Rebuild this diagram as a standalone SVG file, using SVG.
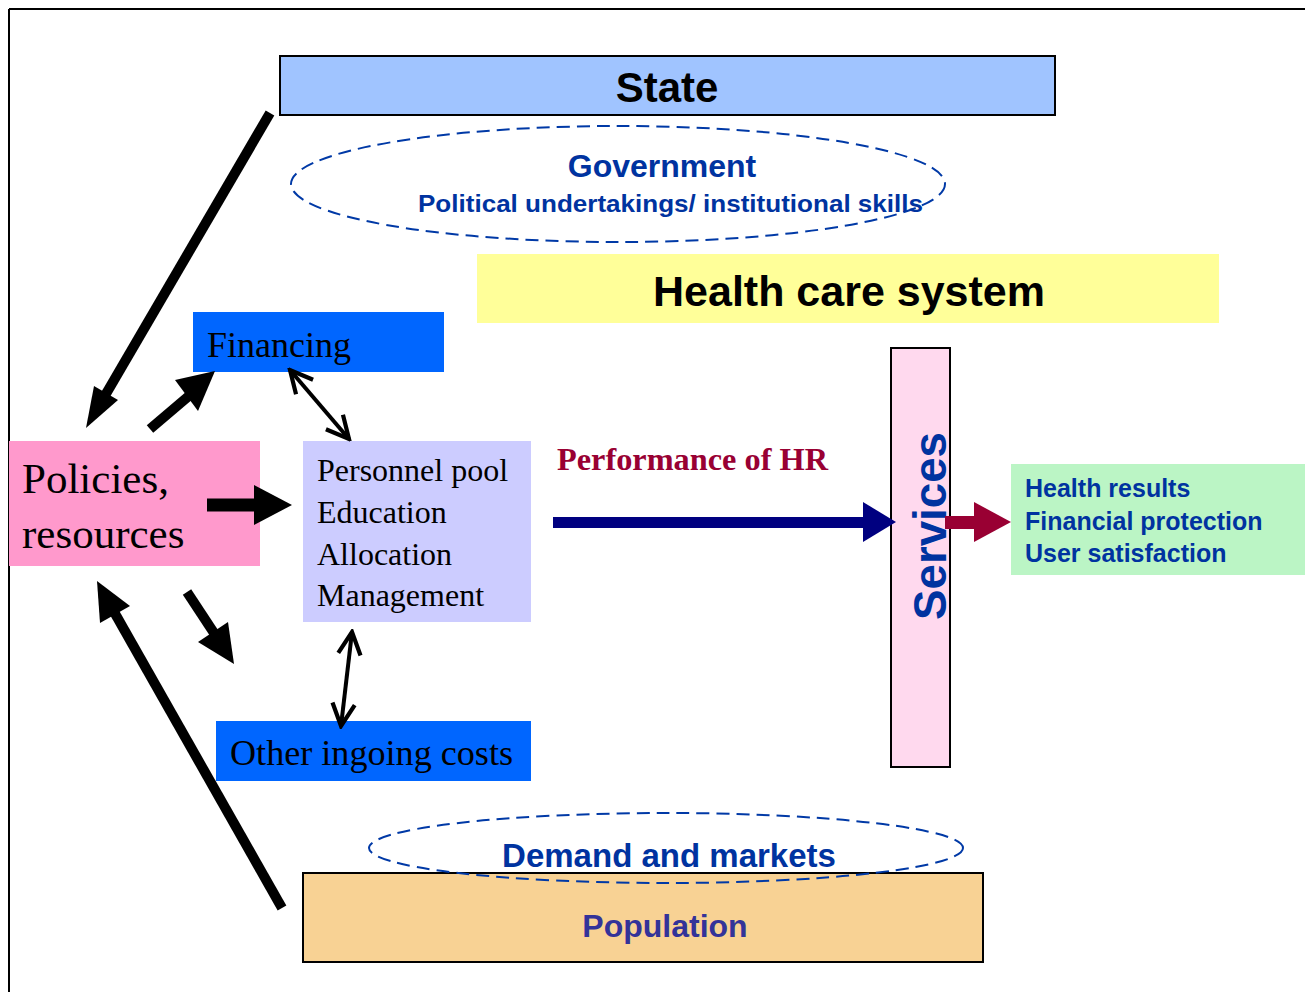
<svg xmlns="http://www.w3.org/2000/svg" width="1305" height="992" viewBox="0 0 1305 992">
<defs>
<style>
.sans{font-family:"Liberation Sans",Arial,sans-serif;font-weight:bold}
.serif{font-family:"Liberation Serif","Times New Roman",serif}
.blue{fill:#0033a0}
.box{stroke:#000;stroke-width:2}
.dash{fill:none;stroke:#0039a6;stroke-width:2;stroke-dasharray:13 7}
.thick{stroke:#000;stroke-width:10;fill:none}
.thin{stroke:#000;stroke-width:4;fill:none}
</style>
<marker id="open" viewBox="0 0 20 20" refX="18" refY="10" markerWidth="7" markerHeight="7" markerUnits="strokeWidth" orient="auto-start-reverse">
<path d="M2,2 L18,10 L2,18" fill="none" stroke="#000" stroke-width="3"/>
</marker>
</defs>
<rect width="1305" height="992" fill="#fff"/>
<g id="frame">
<line x1="9" y1="9" x2="1305" y2="9" stroke="#000" stroke-width="2"/>
<line x1="9" y1="9" x2="9" y2="992" stroke="#000" stroke-width="2"/>
</g>
<g id="state">
<rect class="box" x="280" y="56" width="775" height="59" fill="#a0c4ff"/>
<text class="sans" x="667" y="102" font-size="42" text-anchor="middle" fill="#000">State</text>
</g>
<g id="government">
<ellipse class="dash" cx="618" cy="184" rx="327" ry="58"/>
<text class="sans blue" x="662" y="177" font-size="32" text-anchor="middle">Government</text>
<text class="sans blue" x="418" y="212" font-size="24" textLength="505" lengthAdjust="spacingAndGlyphs">Political undertakings/ institutional skills</text>
</g>
<g id="healthcare">
<rect x="477" y="254" width="742" height="69" fill="#ffff99"/>
<text class="sans" x="849" y="306" font-size="43" text-anchor="middle" fill="#000">Health care system</text>
</g>
<g id="financing">
<rect x="193" y="312" width="251" height="60" fill="#0066ff"/>
<text class="serif" x="207" y="357" font-size="36" fill="#000">Financing</text>
</g>
<g id="policies">
<rect x="9" y="441" width="251" height="125" fill="#ff99cc"/>
<text class="serif" x="22" y="493" font-size="43" fill="#000">Policies,</text>
<text class="serif" x="22" y="548" font-size="43" fill="#000">resources</text>
</g>
<g id="personnel">
<rect x="303" y="441" width="228" height="181" fill="#ccccff"/>
<text class="serif" font-size="32" fill="#000">
<tspan x="317" y="481">Personnel pool</tspan>
<tspan x="317" y="523">Education</tspan>
<tspan x="317" y="565">Allocation</tspan>
<tspan x="317" y="606">Management</tspan>
</text>
</g>
<g id="othercosts">
<rect x="216" y="721" width="315" height="60" fill="#0066ff"/>
<text class="serif" x="230" y="765" font-size="35" fill="#000" textLength="283" lengthAdjust="spacingAndGlyphs">Other ingoing costs</text>
</g>
<g id="performance">
<text class="serif" x="557" y="470" font-size="32" font-weight="bold" fill="#990033" textLength="271" lengthAdjust="spacingAndGlyphs">Performance of HR</text>
</g>
<g id="services">
<rect class="box" x="891" y="348" width="59" height="419" fill="#ffd9ee"/>
<text class="sans blue" font-size="46" text-anchor="middle" transform="translate(946,526) rotate(-90)" textLength="188" lengthAdjust="spacingAndGlyphs">Services</text>
</g>
<g id="results">
<rect x="1011" y="464" width="294" height="111" fill="#bbf5c5"/>
<text class="sans blue" font-size="25">
<tspan x="1025" y="497">Health results</tspan>
<tspan x="1025" y="530">Financial protection</tspan>
<tspan x="1025" y="562">User satisfaction</tspan>
</text>
</g>
<g id="demand">
<text class="sans blue" x="669" y="867" font-size="33" text-anchor="middle">Demand and markets</text>
</g>
<g id="population">
<rect class="box" x="303" y="873" width="680" height="89" fill="#f8d294"/>
<text class="sans" x="665" y="937" font-size="32" text-anchor="middle" fill="#333399">Population</text>
</g>
<ellipse class="dash" cx="666" cy="848" rx="297" ry="35"/>
<g id="connectors">
<line class="thick" x1="270" y1="113" x2="103" y2="399"/>
<polygon points="86,428 94,386 118,400" fill="#000"/>
<line class="thick" x1="150" y1="429" x2="190" y2="395"/>
<polygon points="215,371 175,380 198,411" fill="#000"/>
<line x1="207" y1="505" x2="256" y2="505" stroke="#000" stroke-width="13"/>
<polygon points="292,505 254,485 254,525" fill="#000"/>
<line class="thick" x1="187" y1="592" x2="214" y2="633"/>
<polygon points="234,664 198,642 228,622" fill="#000"/>
<line class="thick" x1="282" y1="908" x2="113" y2="610"/>
<polygon points="97,581 100,623 130,606" fill="#000"/>
<line class="thin" x1="290" y1="370" x2="349" y2="439" marker-start="url(#open)" marker-end="url(#open)"/>
<line class="thin" x1="352" y1="632" x2="341" y2="726" marker-start="url(#open)" marker-end="url(#open)"/>
<rect x="553" y="517" width="312" height="11" fill="#000080"/>
<polygon points="896,522 863,502 863,542" fill="#000080"/>
<rect x="945" y="516" width="31" height="13" fill="#990033"/>
<polygon points="1011,522 974,502 974,542" fill="#990033"/>
</g>
</svg>
